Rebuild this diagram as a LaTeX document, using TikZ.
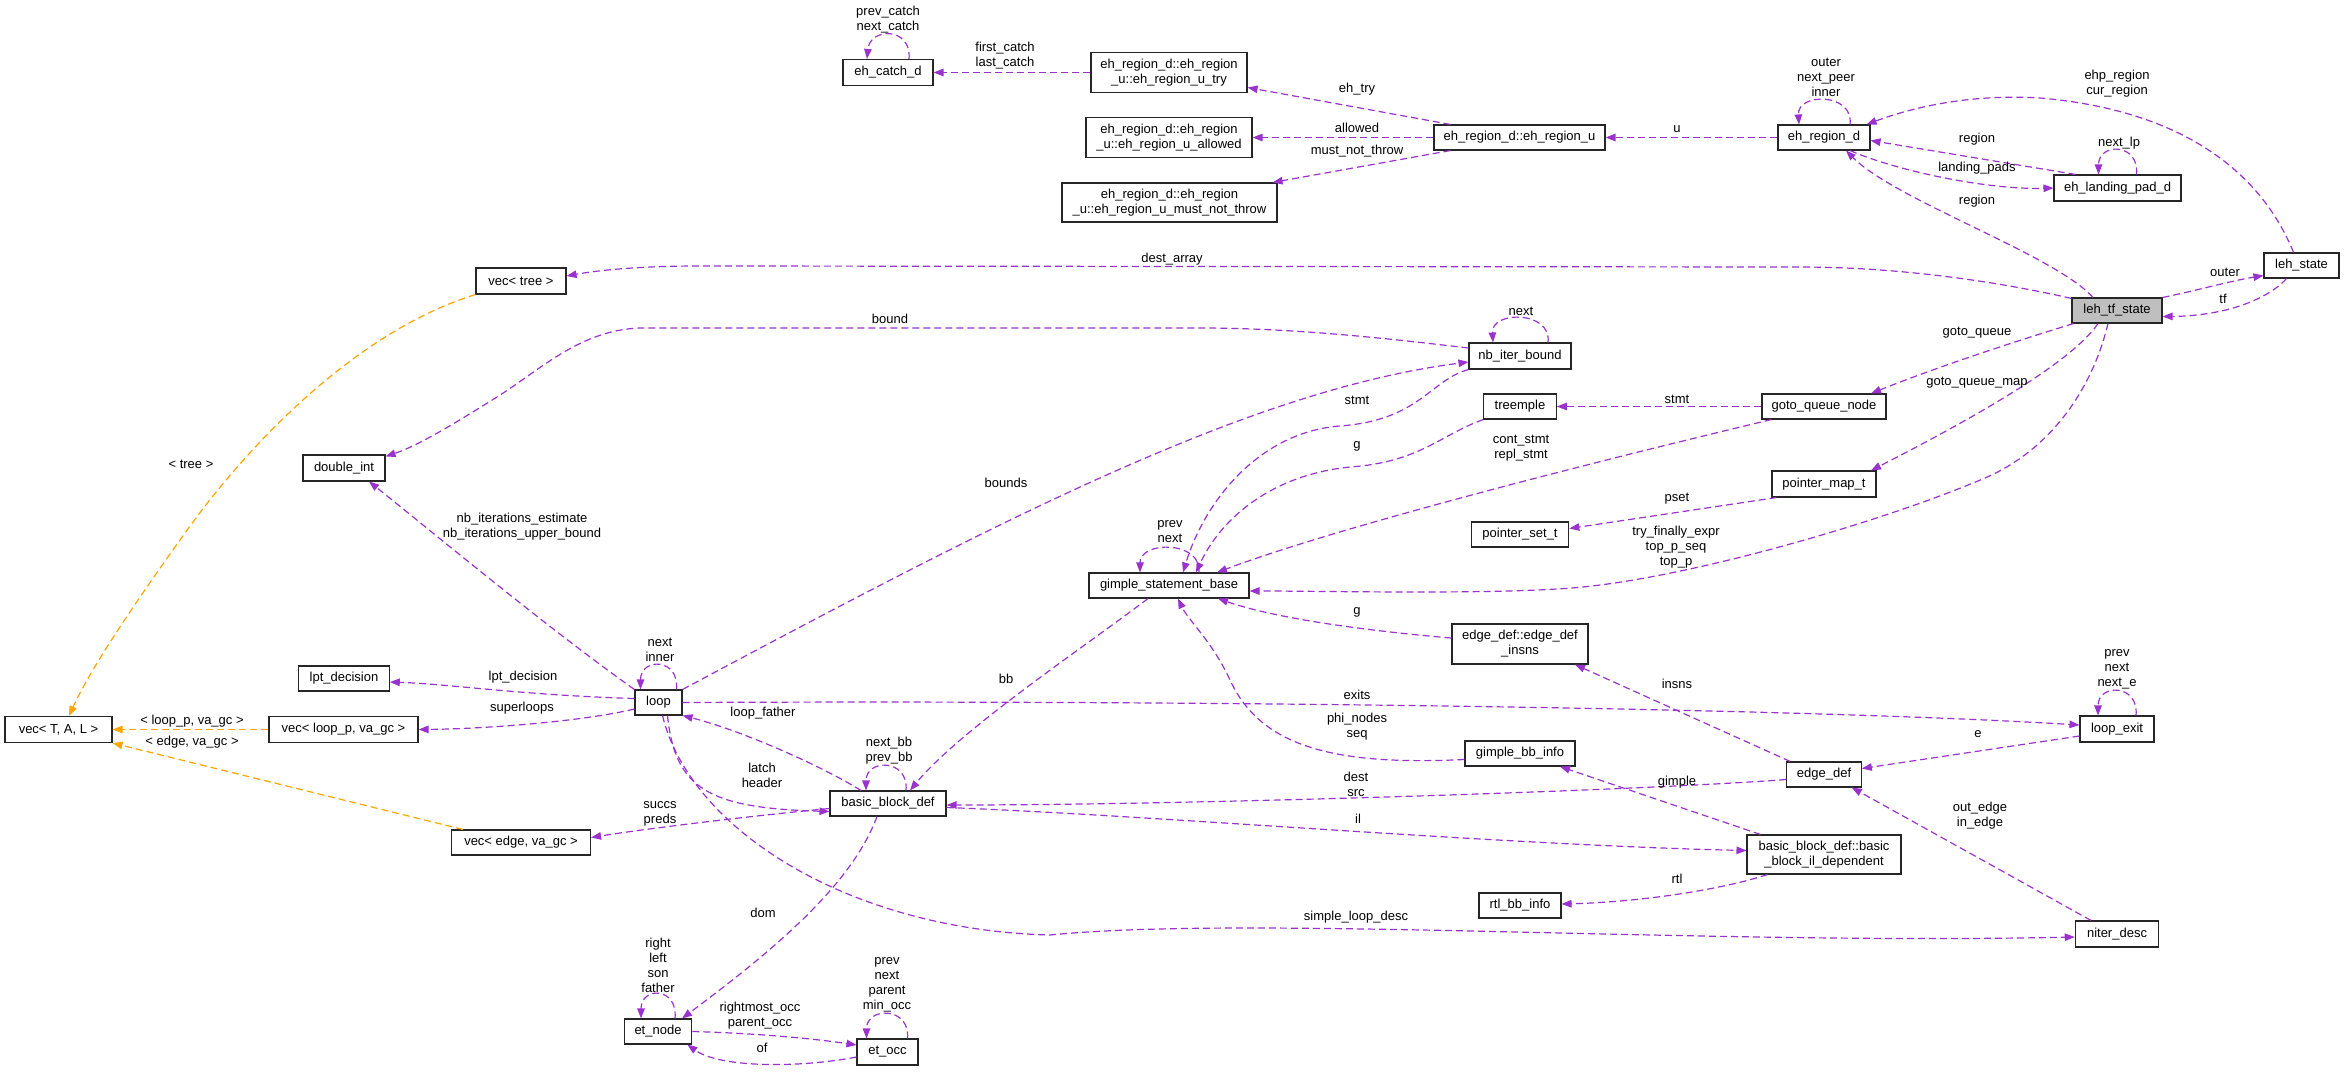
\documentclass[tikz,border=0pt]{standalone}
\usepackage{fontspec}
\setmainfont{Liberation Sans}
\usetikzlibrary{arrows.meta,calc}
\definecolor{usecol}{HTML}{9A32CD}
\definecolor{tmplcol}{HTML}{FFA500}
\definecolor{boxgray}{HTML}{BFBFBF}
\newcommand\dgfont{\fontsize{13}{15}\selectfont}
\begin{document}
\begin{tikzpicture}[x=1pt,y=-1pt,
  clsbox/.style={draw=black!85,line width=1.1pt,fill=white,inner sep=0pt,align=center,font=\dgfont},
  boxwh/.style 2 args={minimum width=#1pt,minimum height=#2pt},
  elabel/.style={inner sep=0pt,align=center,font=\dgfont},
  usedge/.style={draw=usecol,line width=1.2pt,dash pattern=on 7pt off 4pt,-{Triangle[length=10pt,width=7.5pt]}},
  tmpledge/.style={usedge,draw=tmplcol},
]
\useasboundingbox (0,0) rectangle (2344,1071);

% ---------- classes ----------
\node[clsbox,boxwh={90}{26}] (ehcatch) at (888,72.5) {eh\_catch\_d};
\node[clsbox,boxwh={156}{40}] (utry) at (1169,72.5) {eh\_region\_d::eh\_region\\\_u::eh\_region\_u\_try};
\node[clsbox,boxwh={166}{40}] (uallowed) at (1169,137.5) {eh\_region\_d::eh\_region\\\_u::eh\_region\_u\_allowed};
\node[clsbox,boxwh={215}{39}] (umnt) at (1169.5,202.5) {eh\_region\_d::eh\_region\\\_u::eh\_region\_u\_must\_not\_throw};
\node[clsbox,boxwh={171}{25}] (ehu) at (1519.5,137.5) {eh\_region\_d::eh\_region\_u};
\node[clsbox,boxwh={92}{25}] (ehd) at (1824,137.5) {eh\_region\_d};
\node[clsbox,boxwh={127}{26}] (lpad) at (2117.5,188) {eh\_landing\_pad\_d};
\node[clsbox,boxwh={75}{25}] (lehstate) at (2301.5,265.5) {leh\_state};
\node[clsbox,boxwh={90}{25},fill=boxgray] (lehtf) at (2117,310.5) {leh\_tf\_state};
\node[clsbox,boxwh={90}{26}] (vectree) at (521,281) {vec< tree >};
\node[clsbox,boxwh={102}{26}] (nbiter) at (1520,356) {nb\_iter\_bound};
\node[clsbox,boxwh={72.5}{25}] (treemple) at (1520,406.5) {treemple};
\node[clsbox,boxwh={124}{25}] (gqnode) at (1824,406.5) {goto\_queue\_node};
\node[clsbox,boxwh={104}{26}] (pmap) at (1824,484) {pointer\_map\_t};
\node[clsbox,boxwh={97.5}{25}] (pset) at (1520,534.5) {pointer\_set\_t};
\node[clsbox,boxwh={160}{25}] (gsb) at (1169,585.5) {gimple\_statement\_base};
\node[clsbox,boxwh={136}{40}] (edinsns) at (1520,644) {edge\_def::edge\_def\\\_insns};
\node[clsbox,boxwh={82}{26}] (dint) at (344,468) {double\_int};
\node[clsbox,boxwh={90.5}{25}] (lpt) at (344,678.5) {lpt\_decision};
\node[clsbox,boxwh={107}{26}] (vectal) at (58.5,729.5) {vec< T, A, L >};
\node[clsbox,boxwh={149}{26}] (vecloopp) at (343.5,729.5) {vec< loop\_p, va\_gc >};
\node[clsbox,boxwh={139}{25}] (vecedge) at (521,842.5) {vec< edge, va\_gc >};
\node[clsbox,boxwh={47}{25}] (loop) at (658.5,702.5) {loop};
\node[clsbox,boxwh={116}{25}] (bbd) at (888,803.5) {basic\_block\_def};
\node[clsbox,boxwh={110}{25}] (gbbinfo) at (1520,753.5) {gimple\_bb\_info};
\node[clsbox,boxwh={82}{25}] (rtlbb) at (1520,905.5) {rtl\_bb\_info};
\node[clsbox,boxwh={61}{26}] (etocc) at (887.5,1052) {et\_occ};
\node[clsbox,boxwh={67.5}{25}] (etnode) at (658,1031.5) {et\_node};
\node[clsbox,boxwh={74}{26}] (loopexit) at (2117,729) {loop\_exit};
\node[clsbox,boxwh={74.5}{25}] (edgedef) at (1824,774.5) {edge\_def};
\node[clsbox,boxwh={154}{39}] (bbil) at (1824,854.5) {basic\_block\_def::basic\\\_block\_il\_dependent};
\node[clsbox,boxwh={83.5}{26}] (niter) at (2117,934) {niter\_desc};

% ---------- connectors ----------
% eh_catch_d
\draw[usedge] ($(ehcatch.north)+(21,0)$) .. controls +(3,-32) and +(3,-32) .. ($(ehcatch.north)+(-21,0)$);
\node[elabel] (l01) at (888,19.5) {prev\_catch\\next\_catch};
\draw[usedge] (utry.west) -- (ehcatch.east);
\node[elabel] (l02) at (1005,55.5) {first\_catch\\last\_catch};
% eh_region_u
\draw[usedge] ($(ehu.north west)+(17,0)$) -- ($(utry.east)+(0,15)$);
\node[elabel] (l03) at (1357,89) {eh\_try};
\draw[usedge] (ehu.west) -- (uallowed.east);
\node[elabel] (l04) at (1357,128) {allowed};
\draw[usedge] ($(ehu.south west)+(17,0)$) -- ($(umnt.north east)+(-5,0)$);
\node[elabel] (l05) at (1357,151) {must\_not\_throw};
% eh_region_d
\draw[usedge] (ehd.west) -- (ehu.east);
\node[elabel] (l06) at (1677,129) {u};
\draw[usedge] ($(ehd.north)+(26,0)$) .. controls +(4,-32) and +(-2,-32) .. ($(ehd.north)+(-25,0)$);
\node[elabel] (l07) at (1826,77) {outer\\next\_peer\\inner};
\draw[usedge] ($(lpad.north west)+(22,0)$) -- ($(ehd.east)+(0,3)$);
\node[elabel] (l08) at (1977,139) {region};
\draw[usedge] ($(ehd.south)+(26,0)$) .. controls (1900,172) and (1990,190) .. (lpad.west);
\node[elabel] (l09) at (1977,168) {landing\_pads};
\draw[usedge] ($(lpad.north)+(19,0)$) .. controls +(3,-32) and +(0,-32) .. ($(lpad.north)+(-19,0)$);
\node[elabel] (l10) at (2119,143) {next\_lp};
\draw[usedge] ($(lehstate.north)+(-8,0)$) .. controls (2260,170) and (2180,110) .. (2040,98) .. controls (1960,93) and (1900,112) .. ($(ehd.north east)+(-4,0)$);
\node[elabel] (l11) at (2117,83.5) {ehp\_region\\cur\_region};
\draw[usedge] ($(lehtf.north)+(-24,0)$) .. controls (2055,255) and (1895,200) .. ($(ehd.south)+(22,0)$);
\node[elabel] (l12) at (1977,201) {region};
% leh_tf_state
\draw[usedge] ($(lehtf.north west)+(0,1)$) .. controls (2000,282) and (1900,267) .. (1800,267) -- (700,266) .. controls (640,266) and (600,270) .. ($(vectree.east)+(0,-5)$);
\node[elabel] (l13) at (1172,259) {dest\_array};
\draw[usedge] (lehtf.north east) .. controls (2195,291) and (2230,281) .. ($(lehstate.south west)+(0,-3)$);
\node[elabel] (l14) at (2225,272) {outer};
\draw[usedge] ($(lehstate.south)+(-15,0)$) .. controls (2265,302) and (2220,316) .. ($(lehtf.east)+(0,6)$);
\node[elabel] (l15) at (2223,299) {tf};
\draw[usedge] ($(lehtf.south west)+(2,0)$) .. controls (2030,337) and (1950,362) .. ($(gqnode.north)+(47,0)$);
\node[elabel] (l16) at (1977,333) {goto\_queue};
\draw[usedge] ($(lehtf.south)+(-19,0)$) .. controls (2070,365) and (1960,425) .. ($(pmap.north)+(47,0)$);
\node[elabel] (l17) at (1977,383) {goto\_queue\_map};
\draw[usedge] ($(lehtf.south)+(-9,0)$) .. controls (2092,390) and (2050,450) .. (1985,478) .. controls (1887,520) and (1700,575) .. (1583,587) .. controls (1501,595) and (1330,591) .. ($(gsb.east)+(0,5.5)$);
\node[elabel] (l18) at (1676,547) {try\_finally\_expr\\top\_p\_seq\\top\_p};
% goto_queue_node, pointer_map_t
\draw[usedge] (gqnode.west) -- (treemple.east);
\node[elabel] (l19) at (1677,399) {stmt};
\draw[usedge] ($(gqnode.south west)+(10,0)$) .. controls (1560,470) and (1330,530) .. ($(gsb.north)+(48,0)$);
\node[elabel] (l20) at (1521,448.5) {cont\_stmt\\repl\_stmt};
\draw[usedge] ($(pmap.south west)+(5,0)$) -- ($(pset.east)+(0,-6)$);
\node[elabel] (l21) at (1677,499) {pset};
% treemple, nb_iter_bound
\draw[usedge] (treemple.south west) .. controls (1440,435) and (1420,462) .. (1350,467) .. controls (1270,475) and (1220,520) .. ($(gsb.north)+(27,0)$);
\node[elabel] (l22) at (1357,446) {g};
\draw[usedge] (nbiter.south west) .. controls (1430,380) and (1420,420) .. (1340,426) .. controls (1260,432) and (1205,500) .. ($(gsb.north)+(14,0)$);
\node[elabel] (l23) at (1357,400) {stmt};
\draw[usedge] ($(nbiter.north)+(28,0)$) .. controls +(4,-32) and +(-2,-32) .. ($(nbiter.north)+(-27,0)$);
\node[elabel] (l24) at (1521,311) {next};
\draw[usedge] ($(nbiter.west)+(0,-8)$) .. controls (1400,340) and (1300,328) .. (1200,328) -- (640,328) .. controls (580,330) and (540,370) .. (497,397) .. controls (460,420) and (420,445) .. ($(dint.north east)+(0,2)$);
\node[elabel] (l25) at (890,319) {bound};
% loop
\draw[usedge] (loop.north east) .. controls (1000,520) and (1250,390) .. ($(nbiter.west)+(0,6)$);
\node[elabel] (l26) at (1006,483) {bounds};
\draw[usedge] ($(loop.north)+(18,0)$) .. controls +(3,-32) and +(0,-32) .. ($(loop.north)+(-18,0)$);
\node[elabel] (l27) at (660,650) {next\\inner};
\draw[usedge] (loop.north west) .. controls (550,630) and (430,530) .. ($(dint.south)+(25,0)$);
\node[elabel] (l28) at (522,526.5) {nb\_iterations\_estimate\\nb\_iterations\_upper\_bound};
\draw[usedge] ($(loop.west)+(0,-4)$) .. controls (520,695) and (450,684) .. ($(lpt.east)+(0,3.5)$);
\node[elabel] (l29) at (523,677) {lpt\_decision};
\draw[usedge] ($(loop.west)+(0,6.5)$) .. controls (580,722) and (480,729) .. (vecloopp.east);
\node[elabel] (l30) at (522,708) {superloops};
% templates
\draw[tmpledge] (vecloopp.west) -- (vectal.east);
\node[elabel] (l31) at (192,721) {< loop\_p, va\_gc >};
\draw[tmpledge] ($(vecedge.north west)+(12,0)$) -- (vectal.south east);
\node[elabel] (l32) at (192,742) {< edge, va\_gc >};
\draw[tmpledge] (vectree.south west) .. controls (360,330) and (250,440) .. (180,540) .. controls (130,610) and (90,670) .. ($(vectal.north)+(10.5,0)$);
\node[elabel] (l33) at (191,464) {< tree >};
% loop_exit
\draw[usedge] (loop.east) .. controls (1200,700) and (1800,708) .. ($(loopexit.west)+(0,-4)$);
\node[elabel] (l34) at (1357,695) {exits};
\draw[usedge] ($(loopexit.north)+(19,0)$) .. controls +(3,-32) and +(0,-32) .. ($(loopexit.north)+(-19,0)$);
\node[elabel] (l35) at (2117,669.5) {prev\\next\\next\_e};
\draw[usedge] ($(loopexit.west)+(0,7)$) -- ($(edgedef.east)+(0,-6)$);
\node[elabel] (l36) at (1978,734) {e};
% edge_def
\draw[usedge] ($(edgedef.north west)+(4,0)$) -- ($(edinsns.south)+(55,0)$);
\node[elabel] (l37) at (1677,684) {insns};
\draw[usedge] ($(edinsns.west)+(0,-6)$) .. controls (1380,632) and (1280,620) .. ($(gsb.south)+(49,0)$);
\node[elabel] (l38) at (1357,612) {g};
% basic_block_def
\draw[usedge] ($(gsb.south)+(-21,0)$) .. controls (1080,650) and (960,730) .. ($(bbd.north)+(22,0)$);
\node[elabel] (l39) at (1006,679) {bb};
\draw[usedge] ($(bbd.north)+(-27,0)$) .. controls (820,765) and (740,730) .. (loop.south east);
\node[elabel] (l40) at (763,713) {loop\_father};
\draw[usedge] ($(loop.south)+(9,0)$) .. controls (675,790) and (710,808) .. ($(bbd.west)+(0,8)$);
\node[elabel] (l41) at (762,775.5) {latch\\header};
\draw[usedge] ($(bbd.west)+(0,5)$) .. controls (760,815) and (650,828) .. ($(vecedge.east)+(0,-5)$);
\node[elabel] (l42) at (660,814) {succs\\preds};
\draw[usedge] ($(bbd.north)+(18,0)$) .. controls +(3,-32) and +(0,-32) .. ($(bbd.north)+(-22,0)$);
\node[elabel] (l43) at (889,750.5) {next\_bb\\prev\_bb};
\draw[usedge] ($(gbbinfo.west)+(0,6)$) .. controls (1330,766) and (1260,745) .. (1230,680) .. controls (1212,641) and (1188,620) .. ($(gsb.south)+(9,0)$);
\node[elabel] (l44) at (1357,727) {phi\_nodes\\seq};
\draw[usedge] ($(edgedef.west)+(0,5)$) .. controls (1650,790) and (1200,805) .. ($(bbd.east)+(0,1.5)$);
\node[elabel] (l45) at (1356,784.5) {dest\\src};
\draw[usedge] ($(bbd.east)+(0,4)$) .. controls (1150,815) and (1500,845) .. ($(bbil.west)+(0,-4)$);
\node[elabel] (l46) at (1358,819) {il};
\draw[usedge] ($(bbil.north west)+(14,0)$) -- ($(gbbinfo.south)+(40,0)$);
\node[elabel] (l47) at (1677,782) {gimple};
\draw[usedge] ($(bbil.south west)+(21,0)$) .. controls (1720,890) and (1640,902) .. ($(rtlbb.east)+(0,-1.5)$);
\node[elabel] (l48) at (1677,879) {rtl};
\draw[usedge] ($(loop.south)+(4,0)$) .. controls (690,830) and (850,930) .. (1050,935) .. controls (1250,915) and (1700,945) .. ($(niter.west)+(0,3)$);
\node[elabel] (l49) at (1356,917) {simple\_loop\_desc};
\draw[usedge] ($(niter.north)+(-26,0)$) -- ($(edgedef.south east)+(-10,0)$);
\node[elabel] (l50) at (1980,815.5) {out\_edge\\in\_edge};
% et_node, et_occ
\draw[usedge] ($(bbd.south)+(-11,0)$) .. controls (850,890) and (760,960) .. ($(etnode.north)+(24,0)$);
\node[elabel] (l51) at (763,913) {dom};
\draw[usedge] ($(etnode.north)+(17,0)$) .. controls +(3,-32) and +(0,-32) .. ($(etnode.north)+(-17,0)$);
\node[elabel] (l52) at (658,965) {right\\left\\son\\father};
\draw[usedge] (etnode.east) .. controls (750,1033) and (810,1038) .. ($(etocc.west)+(0,-7)$);
\node[elabel] (l53) at (760,1015.5) {rightmost\_occ\\parent\_occ};
\draw[usedge] ($(etocc.west)+(0,5)$) .. controls (800,1068) and (720,1068) .. ($(etnode.south east)+(-5,0)$);
\node[elabel] (l54) at (762,1048) {of};
\draw[usedge] ($(etocc.north)+(20,0)$) .. controls +(3,-32) and +(0,-32) .. ($(etocc.north)+(-21,0)$);
\node[elabel] (l55) at (887,985) {prev\\next\\parent\\min\_occ};
% gimple_statement_base self
\draw[usedge] ($(gsb.north)+(30,0)$) .. controls +(3,-32) and +(0,-32) .. ($(gsb.north)+(-29,0)$);
\node[elabel] (l56) at (1170,532) {prev\\next};
\end{tikzpicture}
\end{document}
